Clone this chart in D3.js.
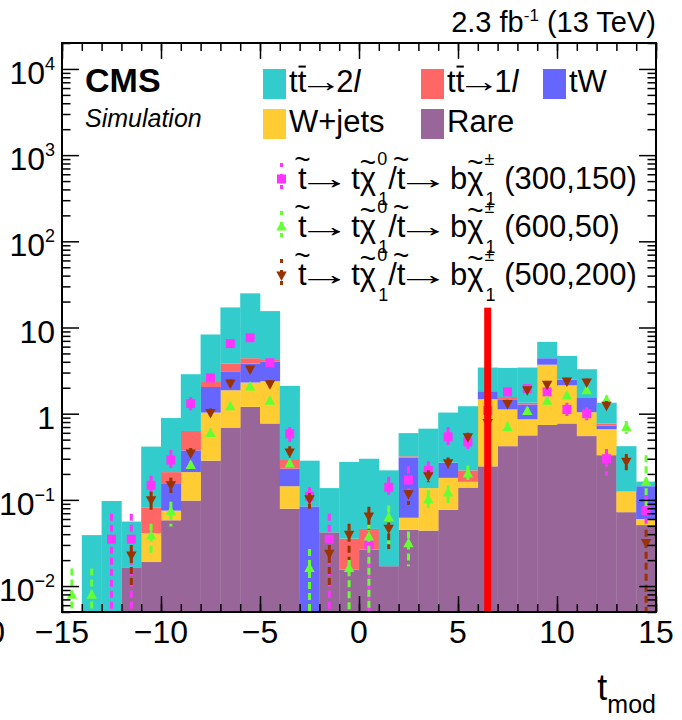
<!DOCTYPE html>
<html>
<head>
<meta charset="utf-8">
<script src="https://cdn.jsdelivr.net/npm/d3@7"></script>
<style>
body { margin: 0; background: #fff; }
svg { display: block; }
text { font-family: "Liberation Sans", Arial, sans-serif; fill: #000; }
</style>
</head>
<body>
<script>
// bins of t_mod, width 1 from -15 to 15
var binLow = [-15,-14,-13,-12,-11,-10,-9,-8,-7,-6,-5,-4,-3,-2,-1,0,1,2,3,4,5,6,7,8,9,10,11,12,13,14];

// background yields per bin
var rare  = [0,0,0,0.0165,0.019,0.058,0.098,0.285,0.69,1.2,0.77,0.079,0,0.042,0.0155,0.0265,0.017,0.045,0.044,0.077,0.139,0.245,0.42,0.56,0.74,0.77,0.55,0.33,0.072,0.051];
var wjets = [0,0,0,0,0.022,0.017,0.112,0.745,1.18,1.1,1.61,0.065,0,0,0,0,0,0.017,0.093,0.103,0.023,1.225,0.70,0.30,2.96,1.36,0.49,0.33,0.053,0.009];
var tW    = [0,0,0,0,0,0.081,0.165,1.01,1.23,1.5,1.62,0.086,0.084,0,0,0,0,0.248,0,0.09,0,0.35,0.35,0.42,0.7,0.35,0.48,0.07,0,0.084];
var tt1l  = [0,0,0,0,0.041,0.054,0.255,0.29,0.7,0.6,0.2,0.06,0,0,0.02,0.0195,0,0.01,0,0,0.058,0,0.09,0.06,0,0,0,0.04,0,0];
var tt2l  = [0,0.039,0.097,0.0395,0.333,0.68,2.24,5.97,13.3,20.5,11.3,1.81,0.201,0.095,0.2395,0.254,0.203,0.275,0.533,0.76,1.0,1.61,1.84,2.09,2.4,2.2,1.76,0.57,0.295,0.019];

// signal points: value, error low, error high
var sig300150   = [null,null,0.035,0.035,0.148,0.29,1.31,2.6,6.5,7.6,3.9,0.585,0.11,0.035,null,0.03,0.14,0.17,0.22,0.54,0.47,1.09,1.79,1.95,1.79,1.12,1.0,0.30,null,0.075];
var sig300150Lo = [null,null,0.005,0.005,0.117,0.22,1.09,2.3,6.0,7.0,3.5,0.47,0.09,0.005,null,0.005,0.113,0.124,0.17,0.43,0.39,0.95,1.6,1.75,1.6,0.94,0.84,0.19,null,0.053];
var sig300150Hi = [null,null,0.069,0.069,0.19,0.38,1.56,2.9,7.0,8.2,4.3,0.70,0.14,0.069,null,0.036,0.185,0.245,0.28,0.70,0.60,1.25,2.0,2.15,2.0,1.34,1.19,0.39,null,0.11];

var sig60050   = [0.0078,0.0078,null,null,0.038,0.073,0.25,0.59,1.2,2.04,1.39,0.26,0.016,null,0.016,0.037,0.062,0.031,0.10,0.12,0.20,null,0.69,1.06,1.39,1.6,1.84,1.43,0.69,0.16];
var sig60050Lo = [0.005,0.005,null,null,0.023,0.049,0.22,0.52,1.08,1.85,1.25,0.23,0.005,null,0.005,0.005,0.029,0.017,0.076,0.091,0.17,null,0.6,0.95,1.25,1.42,1.65,1.25,0.58,0.08];
var sig60050Hi = [0.016,0.016,null,null,0.053,0.095,0.28,0.67,1.33,2.25,1.55,0.29,0.027,null,0.021,0.053,0.086,0.043,0.13,0.148,0.25,null,0.79,1.18,1.55,1.8,2.05,1.62,0.82,0.33];

var sig500200   = [null,null,null,0.023,0.10,0.15,0.35,1.03,2.27,3.3,2.23,0.36,0.103,0.024,0.04,0.065,0.047,0.118,0.19,0.27,0.54,0.79,1.31,1.9,2.19,2.4,2.33,1.25,0.28,0.032];
var sig500200Lo = [null,null,null,0.0095,0.072,0.12,0.3,0.92,2.05,3.0,2.0,0.31,0.079,0.0097,0.02,0.045,0.027,0.087,0.16,0.23,0.47,0.7,1.18,1.75,2.0,2.2,2.13,1.12,0.22,0.005];
var sig500200Hi = [null,null,null,0.03,0.124,0.18,0.40,1.15,2.5,3.6,2.45,0.42,0.12,0.03,0.053,0.083,0.055,0.13,0.22,0.31,0.6,0.88,1.45,2.05,2.4,2.6,2.55,1.4,0.34,0.045];

// cut line
var cutX = 6.5, cutTop = 17;

var xMajor = [-15,-10,-5,0,5,10,15];
var xMinor = [-15,-14,-13,-12,-11,-10,-9,-8,-7,-6,-5,-4,-3,-2,-1,0,1,2,3,4,5,6,7,8,9,10,11,12,13,14,15];
var yMajor = [0.01,0.1,1,10,100,1000,10000];
var yLabelBase = ["10","10","1","10","10","10","10"];
var yLabelSup  = ["\u22122","\u22121","","","2","3","4"];

var keys = ["rare","wjets","tW","tt1l","tt2l"];
var colors = {rare:"#996699", wjets:"#ffcc33", tW:"#6666ff", tt1l:"#ff6666", tt2l:"#33cccc"};

// 1. frame
var W = 682, H = 720;
var frame = {left: 62, right: 656, top: 43, bottom: 612};

var xScale = d3.scaleLinear().domain([-15, 15]).range([frame.left, frame.right]);
var yScale = d3.scaleLog().domain([0.005, 20000]).range([frame.bottom, frame.top]);
var yMin = 0.005;

var svg = d3.select("body").append("svg")
	.attr("width", W)
	.attr("height", H);

svg.append("defs").append("clipPath").attr("id", "plotclip")
	.append("rect")
	.attr("x", frame.left).attr("y", frame.top)
	.attr("width", frame.right - frame.left).attr("height", frame.bottom - frame.top);

var plot = svg.append("g").attr("clip-path", "url(#plotclip)");

// 2. stacked histogram
var rows = binLow.map(function(b, i) {
	return {lo: b, rare: rare[i], wjets: wjets[i], tW: tW[i], tt1l: tt1l[i], tt2l: tt2l[i]};
});
var stacked = d3.stack().keys(keys)(rows);

stacked.forEach(function(layer) {
	plot.append("g")
		.selectAll("rect")
		.data(layer.filter(function(d) { return d[1] > d[0] && d[1] > yMin; }))
		.enter()
		.append("rect")
		.attr("x", function(d) { return xScale(d.data.lo); })
		.attr("width", function(d) { return xScale(d.data.lo + 1) - xScale(d.data.lo) + 0.3; })
		.attr("y", function(d) { return yScale(d[1]); })
		.attr("height", function(d) { return yScale(Math.max(d[0], yMin)) - yScale(d[1]); })
		.style("fill", colors[layer.key]);
});

// 3. signal points with dashed error bars
function drawSignal(vals, lo, hi, color, shape) {
	var pts = [];
	vals.forEach(function(v, i) {
		if (v !== null) pts.push({x: binLow[i] + 0.5, v: v, lo: lo[i], hi: hi[i]});
	});
	var g = plot.append("g");
	g.selectAll("line")
		.data(pts)
		.enter()
		.append("line")
		.attr("x1", function(d) { return xScale(d.x); })
		.attr("x2", function(d) { return xScale(d.x); })
		.attr("y1", function(d) { return yScale(d.hi); })
		.attr("y2", function(d) { return yScale(Math.max(d.lo, yMin)); })
		.style("stroke", color)
		.style("stroke-width", 3)
		.style("stroke-dasharray", "7,4");
	g.selectAll("path")
		.data(pts)
		.enter()
		.append("path")
		.attr("d", shape)
		.attr("transform", function(d) { return "translate(" + xScale(d.x) + "," + yScale(d.v) + ")"; })
		.style("fill", color);
}
var squareShape = "M-4.5,-4.5H4.5V4.5H-4.5Z";
var triUp = "M0,-6L5.2,3.5L-5.2,3.5Z";
var triDown = "M0,6L5.2,-3.5L-5.2,-3.5Z";

drawSignal(sig300150, sig300150Lo, sig300150Hi, "#ff33ff", squareShape);
drawSignal(sig60050, sig60050Lo, sig60050Hi, "#66ff33", triUp);
drawSignal(sig500200, sig500200Lo, sig500200Hi, "#993300", triDown);

// 4. cut line
plot.append("rect")
	.attr("x", xScale(cutX) - 3.5)
	.attr("width", 7)
	.attr("y", yScale(cutTop))
	.attr("height", frame.bottom - yScale(cutTop))
	.style("fill", "#ff0000");

// 5. axes, ticks inside on all four sides
function cleanAxis(g) {
	g.select(".domain").remove();
	g.selectAll("line").style("stroke-width", 1.5);
}
svg.append("g").attr("transform", "translate(0," + frame.bottom + ")")
	.call(d3.axisBottom(xScale).tickValues(xMinor).tickSize(-8).tickFormat(""))
	.call(cleanAxis);
svg.append("g").attr("transform", "translate(0," + frame.bottom + ")")
	.call(d3.axisBottom(xScale).tickValues(xMajor).tickSize(-16).tickFormat(""))
	.call(cleanAxis);
svg.append("g").attr("transform", "translate(0," + frame.top + ")")
	.call(d3.axisTop(xScale).tickValues(xMinor).tickSize(-8).tickFormat(""))
	.call(cleanAxis);
svg.append("g").attr("transform", "translate(0," + frame.top + ")")
	.call(d3.axisTop(xScale).tickValues(xMajor).tickSize(-16).tickFormat(""))
	.call(cleanAxis);

var yMinor = [];
[0.001,0.01,0.1,1,10,100,1000,10000].forEach(function(dec) {
	[2,3,4,5,6,7,8,9].forEach(function(m) {
		var v = dec * m;
		if (v >= 0.005 && v <= 20000) yMinor.push(v);
	});
});
[[frame.left, d3.axisLeft], [frame.right, d3.axisRight]].forEach(function(side) {
	svg.append("g").attr("transform", "translate(" + side[0] + ",0)")
		.call(side[1](yScale).tickValues(yMinor).tickSize(-8.5).tickFormat(""))
		.call(cleanAxis);
	svg.append("g").attr("transform", "translate(" + side[0] + ",0)")
		.call(side[1](yScale).tickValues(yMajor).tickSize(-17).tickFormat(""))
		.call(cleanAxis);
});

svg.append("rect")
	.attr("x", frame.left).attr("y", frame.top)
	.attr("width", frame.right - frame.left).attr("height", frame.bottom - frame.top)
	.style("fill", "none").style("stroke", "#000").style("stroke-width", 2);

// x tick labels
svg.append("g").selectAll("text")
	.data(xMajor)
	.enter()
	.append("text")
	.attr("x", function(d) { return xScale(d); })
	.attr("y", 643)
	.attr("text-anchor", "middle")
	.attr("font-size", 32)
	.text(function(d) { return d < 0 ? "\u2212" + (-d) : d; });
// clipped label at the left edge of the picture
svg.append("text").attr("x", 5).attr("y", 643).attr("text-anchor", "end").attr("font-size", 32).text("0");

// y tick labels
yMajor.forEach(function(v, i) {
	var t = svg.append("text")
		.attr("x", 55)
		.attr("y", yScale(v) + 15)
		.attr("text-anchor", "end")
		.attr("font-size", 32);
	t.append("tspan").text(yLabelBase[i]);
	if (yLabelSup[i]) {
		t.append("tspan").attr("dy", -14).attr("font-size", 18).text(yLabelSup[i]);
	}
});

// x title
var xt = svg.append("text").attr("x", 656).attr("y", 700).attr("text-anchor", "end").attr("font-size", 36);
xt.append("tspan").text("t");
xt.append("tspan").attr("dy", 13).attr("font-size", 25).text("mod");

// lumi text
var lumi = svg.append("text").attr("x", 656).attr("y", 32).attr("text-anchor", "end").attr("font-size", 29);
lumi.append("tspan").text("2.3 fb");
lumi.append("tspan").attr("dy", -11).attr("font-size", 17).text("-1");
lumi.append("tspan").attr("dy", 11).text("\u00a0(13 TeV)");

svg.append("text").attr("x", 85).attr("y", 92).attr("font-size", 34).style("font-weight", "bold").text("CMS");
svg.append("text").attr("x", 85).attr("y", 127).attr("font-size", 25).style("font-style", "italic").text("Simulation");

// 6. legend
function rich(g, x0, base, size, parts) {
	var cx = x0;
	parts.forEach(function(p) {
		if (typeof p === "string") p = {s: p};
		var t = g.append("text").attr("x", cx).attr("y", base).attr("font-size", size)
			.style("font-style", p.italic ? "italic" : null).text(p.s);
		var w = t.node().getComputedTextLength();
		if (p.scale) {
			// long ROOT-style arrow: stretch the glyph, centred in its advance box
			var ox = cx + p.adv / 2 - w * p.scale / 2;
			t.attr("x", 0).attr("y", 0)
				.attr("transform", "translate(" + ox + "," + base + ") scale(" + p.scale + ",1)");
			w = p.adv;
		}
		if (p.tilde) {
			g.append("text").attr("x", cx + w / 2).attr("y", base - size * p.tilde)
				.attr("text-anchor", "middle").attr("font-size", size * 0.9).text("~");
		}
		if (p.bar) {
			g.append("line").attr("x1", cx + w * 0.1).attr("x2", cx + w * 0.95)
				.attr("y1", base - size * 0.82).attr("y2", base - size * 0.82)
				.style("stroke", "#000").style("stroke-width", 2);
		}
		var adv = w;
		if (p.sup || p.sub) {
			var ws = 0, wb = 0;
			if (p.sup) {
				var s = g.append("text").attr("x", cx + w + 1).attr("y", base - size * 0.77)
					.attr("font-size", size * 0.58).text(p.sup);
				ws = s.node().getComputedTextLength();
			}
			if (p.sub) {
				var b = g.append("text").attr("x", cx + w + 2).attr("y", base + size * 0.52)
					.attr("font-size", size * 0.58).text(p.sub);
				wb = b.node().getComputedTextLength() + 1;
			}
			adv = w + 1 + Math.max(ws, wb);
		}
		cx += adv;
	});
	return cx;
}

var arrow = {s: "\u2192", scale: 1.4, adv: 30};
var leg = svg.append("g");
var boxLegend = [
	{key: "tt2l", x: 263, y: 69, parts: ["t", {s: "t", bar: true}, arrow, "2", {s: "l", italic: true}]},
	{key: "tt1l", x: 421, y: 69, parts: ["t", {s: "t", bar: true}, arrow, "1", {s: "l", italic: true}]},
	{key: "tW", x: 543, y: 69, parts: ["tW"]},
	{key: "wjets", x: 263, y: 109, parts: ["W+jets"]},
	{key: "rare", x: 421, y: 109, parts: ["Rare"]}
];
boxLegend.forEach(function(e) {
	leg.append("rect").attr("x", e.x).attr("y", e.y).attr("width", 23).attr("height", 30)
		.style("fill", colors[e.key]);
	rich(leg, e.x + 26, e.y + 23, 31, e.parts);
});

var sigLegend = [
	{label: "(300,150)", color: "#ff33ff", shape: squareShape, y: 189},
	{label: "(600,50)", color: "#66ff33", shape: triUp, y: 237},
	{label: "(500,200)", color: "#993300", shape: triDown, y: 285}
];
var sigArrow = {s: "\u2192", scale: 1.75, adv: 36};
sigLegend.forEach(function(e) {
	var my = e.y - 10;
	leg.append("line").attr("x1", 281.5).attr("x2", 281.5).attr("y1", my - 16).attr("y2", my + 16)
		.style("stroke", e.color).style("stroke-width", 3).style("stroke-dasharray", "4,7");
	leg.append("path").attr("d", e.shape).attr("transform", "translate(281.5," + my + ")").style("fill", e.color);
	rich(leg, 298, e.y, 31, [
		{s: "t", tilde: 0.66}, sigArrow, "\u00a0t", {s: "\u03c7", tilde: 0.55, sup: "0", sub: "1"},
		"/", {s: "t", tilde: 0.66}, sigArrow, "\u00a0b", {s: "\u03c7", tilde: 0.55, sup: "\u00b1", sub: "1"},
		"\u00a0" + e.label
	]);
});
</script>
</body>
</html>
